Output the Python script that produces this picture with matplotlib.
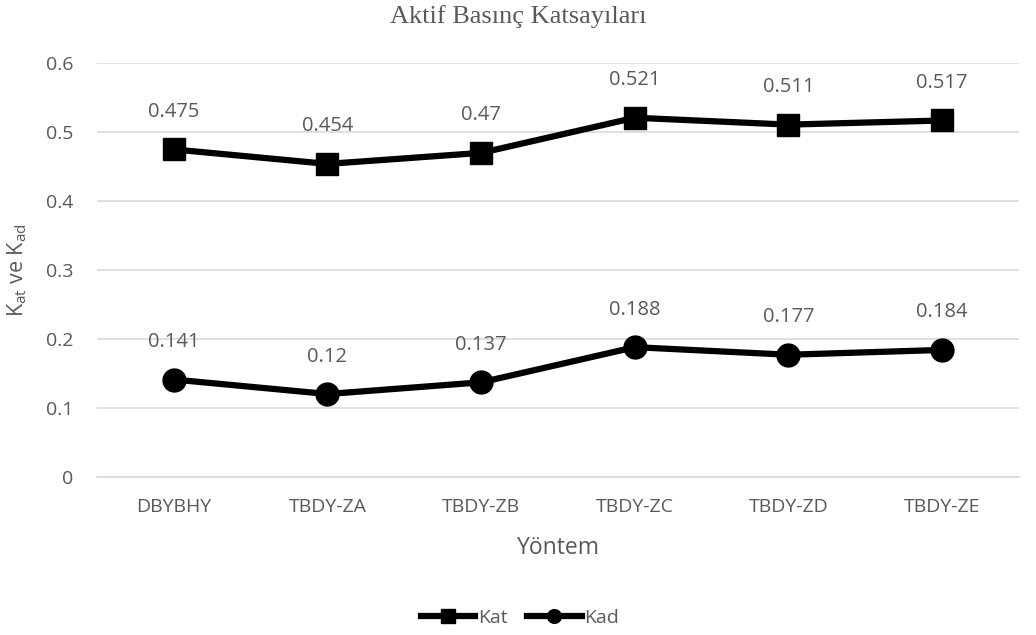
import matplotlib.pyplot as plt

# Dados
yontem = ["DBYBHY", "TBDY-ZA", "TBDY-ZB", "TBDY-ZC", "TBDY-ZD", "TBDY-ZE"]
kat = [0.475, 0.454, 0.47, 0.521, 0.511, 0.517]
kad = [0.141, 0.12, 0.137, 0.188, 0.177, 0.184]
kat_lbl = ["0.475", "0.454", "0.47", "0.521", "0.511", "0.517"]
kad_lbl = ["0.141", "0.12", "0.137", "0.188", "0.177", "0.184"]

plt.rcParams["font.family"] = ["Open Sans", "DejaVu Sans"]
GRAY = "#595959"

fig = plt.figure(figsize=(10.36, 6.35), dpi=100)
ax = fig.add_axes([0.0936, 0.2493, 0.89, 0.651])

x = list(range(len(yontem)))
ax.plot(x, kat, color="black", linewidth=4.5, marker="s", markersize=16, label="Kat")
ax.plot(x, kad, color="black", linewidth=4.5, marker="o", markersize=16.5, label="Kad")

# rótulos dos pontos
for serie, rotulos in [(kat, kat_lbl), (kad, kad_lbl)]:
    for xi, v, s in zip(x, serie, rotulos):
        ax.annotate(s, (xi, v), xytext=(0, 27), textcoords="offset points",
                    ha="center", va="center", fontsize=14.5, color=GRAY)

ax.set_xlim(-0.5, len(yontem) - 0.5)
ax.set_ylim(0, 0.6)
ax.set_yticks([0, 0.1, 0.2, 0.3, 0.4, 0.5, 0.6])
ax.set_yticklabels(["0", "0.1", "0.2", "0.3", "0.4", "0.5", "0.6"])
ax.set_xticks(x)
ax.set_xticklabels(yontem)
ax.tick_params(axis="both", length=0, labelsize=14, labelcolor=GRAY)
ax.tick_params(axis="y", pad=17)
ax.tick_params(axis="x", pad=15)
ax.grid(axis="y", color="#d9d9d9", linewidth=1.2)
ax.set_axisbelow(True)
for sp in ["top", "right", "left"]:
    ax.spines[sp].set_visible(False)
ax.spines["bottom"].set_color("#d9d9d9")
ax.spines["bottom"].set_linewidth(1.2)

ax.set_xlabel("Yöntem", fontsize=16.5, color=GRAY, va="center")
ax.xaxis.set_label_coords(0.5, -0.1725)
ax.set_ylabel("K$_{\\mathregular{at}}$ ve K$_{\\mathregular{ad}}$", fontsize=15.5, color=GRAY, va="center")
ax.yaxis.set_label_coords(-0.0868, 0.5)
fig.text(0.5, 1 - 17 / 635, "Aktif Basınç Katsayıları", fontsize=19, color=GRAY,
         family="Liberation Serif", ha="center", va="center")

leg = ax.legend(loc="center", bbox_to_anchor=(0.502, 0.027), bbox_transform=fig.transFigure,
                ncol=2, frameon=False, fontsize=14, handlelength=2.8,
                handletextpad=0.15, columnspacing=1.0, markerscale=0.6)
for t in leg.get_texts():
    t.set_color(GRAY)

fig.savefig("out.png", dpi=100)
